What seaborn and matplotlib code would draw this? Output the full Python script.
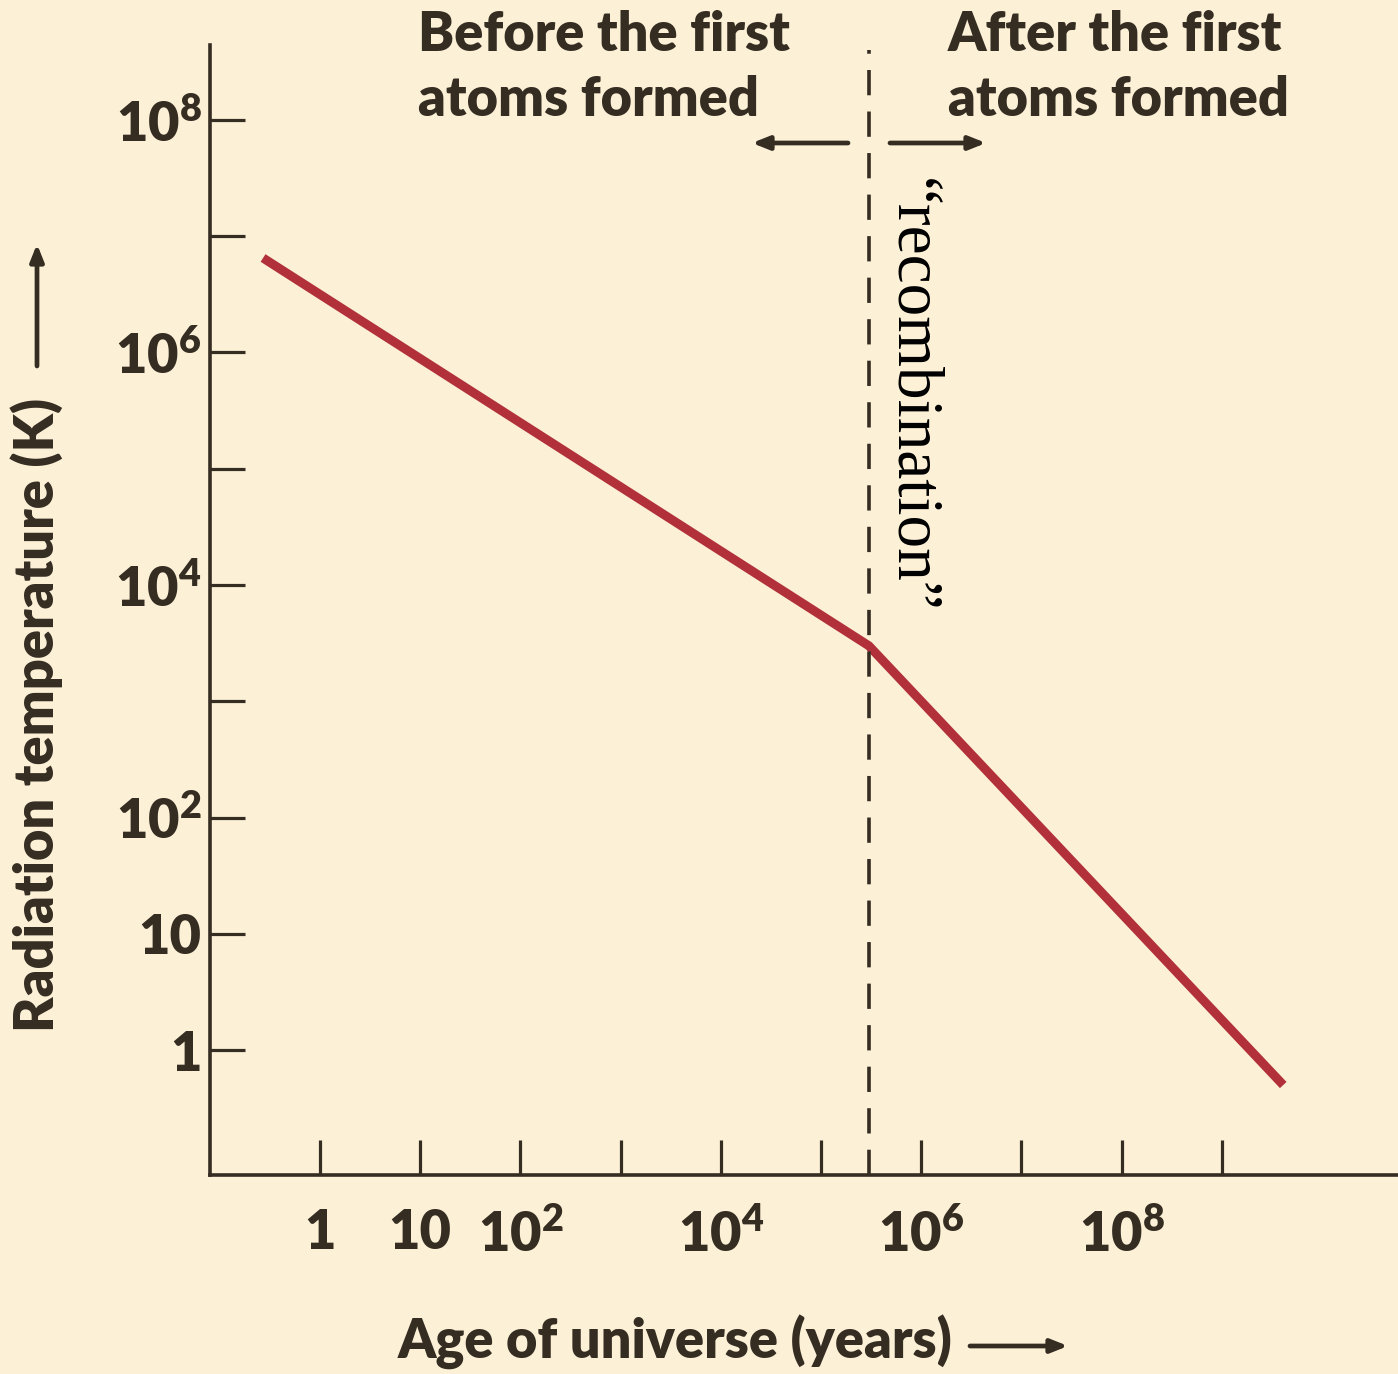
import matplotlib
matplotlib.use("Agg")
import matplotlib.pyplot as plt
import seaborn as sns
import pandas as pd

# Age of the universe (years) and radiation temperature (K) at the curve's vertices
age_years = [0.27, 3.0e5, 4.1e9]
temperature_k = [6.5e6, 3000.0, 0.5]

recombination_age = 3.0e5

x_ticks = [1, 10, 1e2, 1e3, 1e4, 1e5, 1e6, 1e7, 1e8, 1e9]
x_tick_labels = ["1", "10", "$10^{2}$", "", "$10^{4}$", "", "$10^{6}$", "", "$10^{8}$", ""]
y_ticks = [1, 10, 1e2, 1e3, 1e4, 1e5, 1e6, 1e7, 1e8]
y_tick_labels = ["1", "10", "$10^{2}$", "", "$10^{4}$", "", "$10^{6}$", "", "$10^{8}$"]

bg = "#FCF1D7"
ink = "#352C22"
curve_color = "#B1303A"
weight = "heavy"

sns.set_style("ticks")
plt.rcParams["font.family"] = ["Lato", "DejaVu Sans"]
plt.rcParams["font.weight"] = weight
plt.rcParams["mathtext.fontset"] = "custom"
plt.rcParams["mathtext.rm"] = "Lato:heavy"
plt.rcParams["mathtext.it"] = "Lato:heavy"
plt.rcParams["mathtext.bf"] = "Lato:heavy"

df = pd.DataFrame({"age": age_years, "temp": temperature_k})

fig = plt.figure(figsize=(13.98, 13.74), dpi=100, facecolor=bg)
ax = fig.add_axes([210 / 1398, 199 / 1374, 1188 / 1398, 1130 / 1374], facecolor=bg)

sns.lineplot(data=df, x="age", y="temp", ax=ax, color=curve_color, linewidth=6.5,
             solid_capstyle="butt", solid_joinstyle="round", legend=False)

ax.set_xscale("log")
ax.set_yscale("log")
ax.set_xlim(10 ** -1.098, 10 ** 10.758)
ax.set_ylim(10 ** -1.075, 10 ** 8.645)

ax.set_xticks(x_ticks)
ax.set_xticklabels(x_tick_labels)
ax.set_yticks(y_ticks)
ax.set_yticklabels(y_tick_labels)
ax.minorticks_off()
ax.tick_params(axis="both", direction="in", length=25, width=2.3, color=ink,
               labelcolor=ink, labelsize=39)
ax.tick_params(axis="x", pad=24)
ax.tick_params(axis="y", pad=6)

for side in ("top", "right"):
    ax.spines[side].set_visible(False)
for side in ("left", "bottom"):
    ax.spines[side].set_color(ink)
    ax.spines[side].set_linewidth(2.6)

ax.set_xlabel("")
ax.set_ylabel("")

# recombination boundary
ax.axvline(recombination_age, ymin=0, ymax=0.9956, color=ink, linewidth=2.6,
           linestyle=(0, (7, 4.5)))

# region headings
heading_kw = dict(ha="left", va="center", fontsize=39, color=ink, fontweight=weight)
fig.text(418 / 1398, 1 - 35 / 1374, "Before the first", **heading_kw)
fig.text(418 / 1398, 1 - 100 / 1374, "atoms formed", **heading_kw)
fig.text(948 / 1398, 1 - 35 / 1374, "After the first", **heading_kw)
fig.text(948 / 1398, 1 - 100 / 1374, "atoms formed", **heading_kw)

arrow_kw = dict(arrowstyle="-|>,head_length=1.0,head_width=0.4", color=ink, lw=3.4,
                shrinkA=0, shrinkB=0)
ax.annotate("", xy=(752 / 1398, 1 - 143 / 1374), xytext=(848 / 1398, 1 - 143 / 1374),
            xycoords="figure fraction", textcoords="figure fraction", arrowprops=arrow_kw)
ax.annotate("", xy=(986 / 1398, 1 - 143 / 1374), xytext=(890 / 1398, 1 - 143 / 1374),
            xycoords="figure fraction", textcoords="figure fraction", arrowprops=arrow_kw)

fig.text(911 / 1398, 1 - 395 / 1374, "\u201crecombination\u201d", rotation=-90,
         ha="center", va="center", fontsize=47, color="black",
         family=["Liberation Serif", "DejaVu Serif"], fontweight="normal")

# axis titles with arrows
fig.text(675 / 1398, 1 - 1343 / 1374, "Age of universe (years)", ha="center", va="center",
         fontsize=39, color=ink, fontweight=weight)
ax.annotate("", xy=(1068 / 1398, 1 - 1346 / 1374), xytext=(970 / 1398, 1 - 1346 / 1374),
            xycoords="figure fraction", textcoords="figure fraction", arrowprops=arrow_kw)
fig.text(37 / 1398, 1 - 715 / 1374, "Radiation temperature (K)", ha="center", va="center",
         rotation=90, fontsize=39, color=ink, fontweight=weight)
ax.annotate("", xy=(37 / 1398, 1 - 244 / 1374), xytext=(37 / 1398, 1 - 366 / 1374),
            xycoords="figure fraction", textcoords="figure fraction", arrowprops=arrow_kw)

fig.savefig("out.png", dpi=100, facecolor=bg)
